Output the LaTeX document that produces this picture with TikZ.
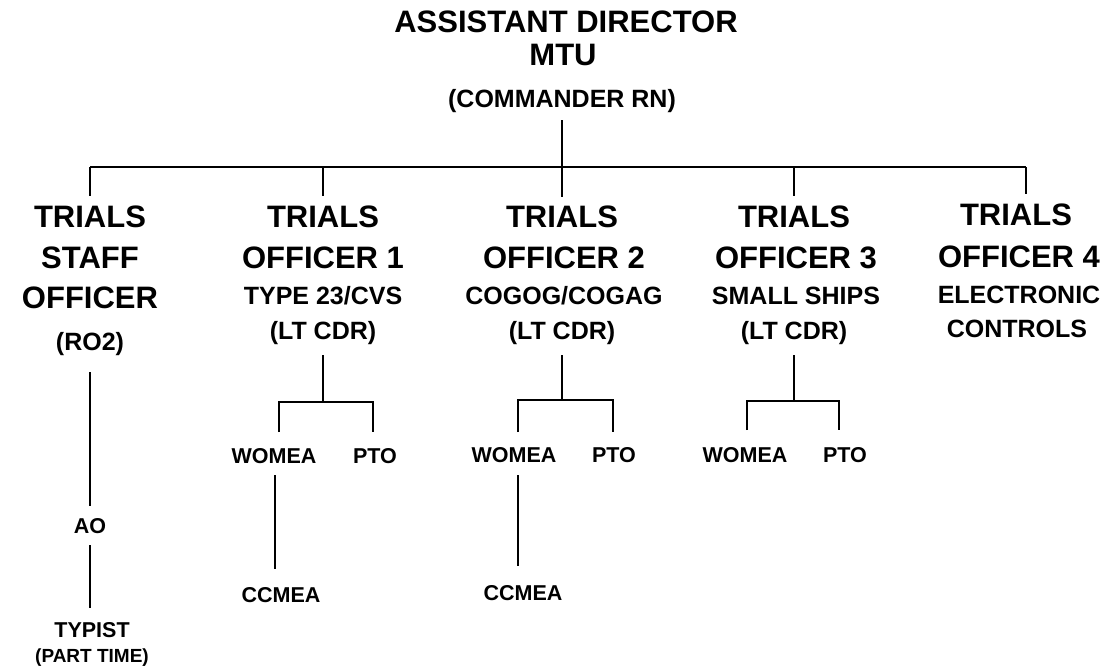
\documentclass[tikz,border=0pt]{standalone}
\usepackage{fontspec}
\setmainfont{Liberation Sans}
\usetikzlibrary{calc}
\tikzset{
  big/.style={font=\fontsize{31}{31}\selectfont\bfseries, anchor=base, inner sep=0pt},
  mid/.style={font=\fontsize{25}{25}\selectfont\bfseries, anchor=base, inner sep=0pt},
  small/.style={font=\fontsize{21.5}{21.5}\selectfont\bfseries, anchor=base, inner sep=0pt},
  tiny/.style={font=\fontsize{19}{19}\selectfont\bfseries, anchor=base, inner sep=0pt},
  ln/.style={line width=1.8pt}
}
\begin{document}
\begin{tikzpicture}[x=1pt,y=-1pt]
\useasboundingbox (0,0) rectangle (1117,667);
% head
\node[big] (ad) at (566,32) {ASSISTANT DIRECTOR};
\node[big] (mtu) at (563,65) {MTU};
\node[mid] (cmdr) at (562,107) {(COMMANDER RN)};
% bus
\coordinate (j0) at (90,167);
\coordinate (j1) at (323,167);
\coordinate (j2) at (562,167);
\coordinate (j3) at (794,167);
\coordinate (j4) at (1026,167);
% staff officer
\node[big] (s1) at (90,227) {TRIALS};
\node[big] (s2) at (90,268) {STAFF};
\node[big] (s3) at (90,308) {OFFICER};
\node[mid] (s4) at (90,350) {(RO2)};
\node[small] (ao) at (90,533) {AO};
\node[small] (ty) at (92,637) {TYPIST};
\node[tiny] (pt) at (92,662) {(PART TIME)};
% officer 1
\node[big] (a1) at (323,227) {TRIALS};
\node[big] (a2) at (323,268) {OFFICER 1};
\node[mid] (a3) at (323,304) {TYPE 23/CVS};
\node[mid] (a4) at (323,339) {(LT CDR)};
\node[small] (w1) at (274,463) {WOMEA};
\node[small] (p1) at (375,463) {PTO};
\node[small] (c1) at (281,602) {CCMEA};
% officer 2
\node[big] (b1) at (562,227) {TRIALS};
\node[big] (b2) at (564,268) {OFFICER 2};
\node[mid] (b3) at (564,304) {COGOG/COGAG};
\node[mid] (b4) at (562,339) {(LT CDR)};
\node[small] (w2) at (514,462) {WOMEA};
\node[small] (p2) at (614,462) {PTO};
\node[small] (c2) at (523,600) {CCMEA};
% officer 3
\node[big] (d1) at (794,227) {TRIALS};
\node[big] (d2) at (796,268) {OFFICER 3};
\node[mid] (d3) at (796,304) {SMALL SHIPS};
\node[mid] (d4) at (794,339) {(LT CDR)};
\node[small] (w3) at (745,462) {WOMEA};
\node[small] (p3) at (845,462) {PTO};
% officer 4
\node[big] (e1) at (1016,225) {TRIALS};
\node[big] (e2) at (1019,267) {OFFICER 4};
\node[mid] (e3) at (1019,303) {ELECTRONIC};
\node[mid] (e4) at (1017,337) {CONTROLS};
% junctions
\coordinate (k1) at (323,402);
\coordinate (k1l) at (279,432);
\coordinate (k1r) at (373,432);
\coordinate (k2) at (562,400);
\coordinate (k2l) at (518,432);
\coordinate (k2r) at (613,432);
\coordinate (k3) at (794,401);
\coordinate (k3l) at (747,430);
\coordinate (k3r) at (839,430);
% connectors
\draw[ln] ($(cmdr.south)+(0,8)$) -- ($(b1.north)+(0,-8)$);
\draw[ln] (j0) -- (j4);
\draw[ln] (j0) -- ($(s1.north)+(0,-9)$);
\draw[ln] (j1) -- ($(a1.north)+(0,-9)$);
\draw[ln] (j3) -- ($(d1.north)+(0,-9)$);
\draw[ln] (j4) -- ($(j4 |- e1.north)+(0,-9)$);
% staff chain
\draw[ln] ($(s4.south)+(0,17)$) -- ($(ao.north)+(0,-12)$);
\draw[ln] ($(ao.south)+(0,12)$) -- ($(ty.north -| ao.south)+(0,-14)$);
% officer 1
\draw[ln] ($(a4.south)+(0,11)$) -- (k1);
\draw[ln] (k1l) |- (k1) -| (k1r);
\draw[ln] ($(w1.south)+(1,12)$) -- ($(w1.south |- c1.north)+(1,-18)$);
% officer 2
\draw[ln] ($(b4.south)+(0,11)$) -- (k2);
\draw[ln] (k2l) |- (k2) -| (k2r);
\draw[ln] ($(w2.south)+(4,13)$) -- ($(w2.south |- c2.north)+(4,-19)$);
% officer 3
\draw[ln] ($(d4.south)+(0,11)$) -- (k3);
\draw[ln] (k3l) |- (k3) -| (k3r);
\end{tikzpicture}
\end{document}
